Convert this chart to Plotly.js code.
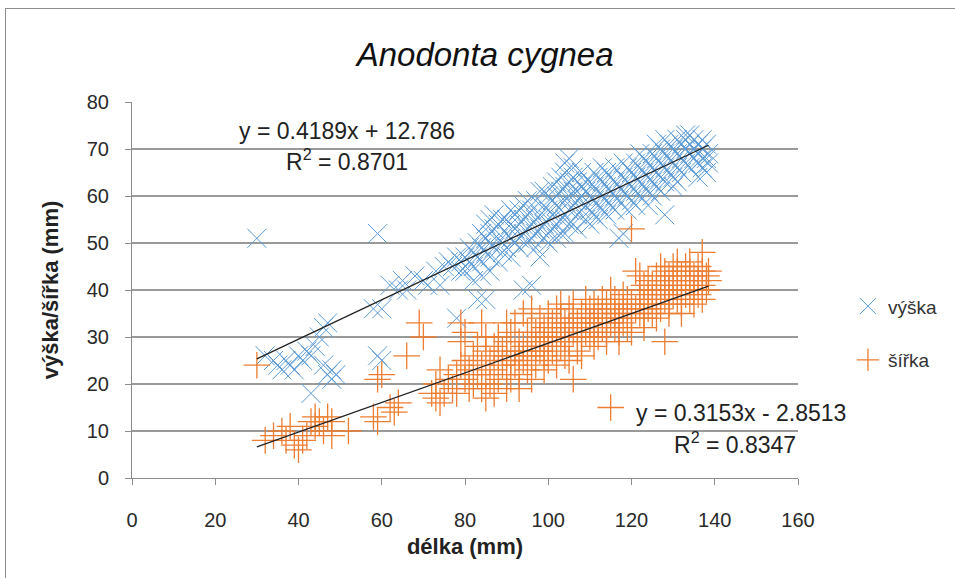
<!DOCTYPE html>
<html><head><meta charset="utf-8">
<script src="https://cdn.plot.ly/plotly-3.0.1.min.js"></script>
<style>
body{margin:0;background:#fff;}
#chart{position:absolute;left:0;top:0;width:955px;height:578px;}
#frame{position:absolute;left:5px;top:8px;width:960px;height:580px;border:1px solid #8c8c8c;pointer-events:none;}
</style></head>
<body><div id="chart"></div><div id="frame"></div>
<script>
// výška (height) vs délka (length)
const vyskaPoints = [
 [30,51],[59,52],[32,26],[34,25],[35,24],[36,23],[37,25],[38,24],[39,23],[40,26],[41,25],[42,27],[43,26],[43,18],
 [44,28],[45,30],[46,32],[47,33],[47,22],[48,21],[49,22],[48,23],[46,24],[59,26],[60,25],[58,36],[60,36],
 [62,41],[64,40],[65,42],[66,40],[68,43],[70,42],[71,41],[73,44],[74,41],[75,45],[76,46],[77,45],[78,47],[79,46],[79,44],[78,34],
 [80,47],[80,44],[81,46],[81,49],[82,48],[82,45],[82,42],[83,50],[83,47],[83,38],[84,52],[84,46],[84,49],[84,43],[85,54],[85,48],[85,51],[85,38],
 [86,55],[86,47],[86,50],[86,52],[86,44],[87,53],[87,49],[87,56],[88,51],[88,46],[88,54],[89,50],[89,48],[89,55],[90,52],[90,49],[90,55],
 [91,51],[91,57],[91,47],[91,54],[92,53],[92,50],[92,56],[93,54],[93,51],[93,49],[93,57],[94,55],[94,52],[94,58],[94,40],[95,53],[95,50],[95,56],[95,59],[96,41],
 [96,57],[96,54],[96,51],[97,55],[97,52],[97,59],[97,49],[98,56],[98,53],[98,47],[98,61],[99,58],[99,54],[99,51],[99,61],[100,57],[100,55],[100,60],[100,52],[100,50],
 [101,56],[101,62],[101,53],[101,59],[102,58],[102,60],[102,54],[102,51],[102,63],[103,64],[103,57],[103,61],[103,52],[103,55],[104,65],[104,59],[104,55],[104,62],[104,67],[104,52],
 [105,68],[105,60],[105,57],[105,63],[105,54],[106,66],[106,58],[106,61],[106,54],[106,64],[107,63],[107,59],[107,56],[107,61],[107,53],[108,62],[108,60],[108,57],[108,65],
 [109,61],[109,58],[109,55],[109,63],[110,60],[110,63],[110,57],[110,54],
 [111,59],[111,62],[111,56],[111,65],[112,61],[112,58],[112,64],[112,55],[113,60],[113,63],[113,57],[113,66],[114,62],[114,59],[114,65],[114,56],[115,61],[115,58],[115,64],
 [116,63],[116,60],[116,66],[116,57],[117,62],[117,59],[117,51],[118,64],[118,61],[118,67],[118,52],[119,63],[119,60],[119,66],[119,57],[120,62],[120,65],[120,59],
 [121,64],[121,61],[121,67],[121,58],[122,63],[122,66],[122,60],[122,69],[123,65],[123,62],[123,68],[124,64],[124,61],[124,67],[124,58],[125,66],[125,63],[125,69],[125,60],
 [126,65],[126,68],[126,62],[126,71],[127,67],[127,64],[127,70],[127,61],[128,66],[128,69],[128,56],[128,63],[128,72],[129,68],[129,65],[129,71],[130,67],[130,70],[130,64],[130,62],
 [131,69],[131,66],[131,72],[131,63],[132,68],[132,71],[132,65],[133,70],[133,67],[133,72],[133,73],[134,69],[134,66],[134,71],[134,73],[135,70],[135,68],[135,72],
 [136,71],[136,67],[136,69],[136,64],[137,70],[137,72],[137,66],[137,68],[138,71],[138,68],[138,65],[138.5,69],[138.5,67]
];
// šířka (width) vs délka (length)
const sirkaPoints = [
 [30,24],[32,8],[34,9],[36,10],[37,8],[38,11],[39,7],[40,6],[41,8],[42,9],[43,12],[44,11],[44,13],[45,12],[46,10],[47,13],[48,12],[48,9],
 [52,10],[58,13],[59,12],[59,21],[60,22],[62,15],[63,14],[64,16],[66,26],[69,33],[70,30],[72,18],[73,17],[73,20],[74,16],[75,18],[74,23],
 [79,33],[80,31],[79,29],
 [76,21],[77,19],[78,22],[78,18],[79,24],[80,21],[80,25],[81,19],[81,23],[82,26],[82,20],[83,22],[83,28],[84,24],[84,19],[84,33],[85,27],[85,22],[85,30],[85,17],
 [86,25],[86,20],[87,23],[87,28],[87,18],[88,26],[88,21],[88,30],[89,24],[89,27],[90,22],[90,26],[90,29],[90,19],[90,33],
 [91,25],[91,31],[91,21],[92,27],[92,24],[92,33],[93,26],[93,29],[93,22],[93,19],[94,28],[94,25],[94,35],[95,27],[95,23],[95,31],
 [96,29],[96,26],[96,33],[96,21],[96,36],[97,28],[97,24],[97,31],[98,30],[98,27],[98,34],[99,29],[99,26],[99,32],[99,23],[100,31],[100,28],[100,35],[100,25],
 [101,30],[101,27],[101,33],[102,32],[102,29],[102,36],[102,24],[103,31],[103,28],[103,34],[103,37],[104,33],[104,30],[104,26],[105,32],[105,29],[105,36],[105,25],
 [106,34],[106,31],[106,37],[106,21],[107,33],[107,30],[107,27],[108,35],[108,32],[108,29],[108,26],[109,34],[109,31],[109,38],[110,33],[110,36],[110,30],
 [111,34],[111,31],[111,37],[111,28],[112,33],[112,36],[112,30],[113,35],[113,32],[113,38],[114,34],[114,31],[114,37],[114,29],[115,36],[115,33],[115,15],[115,40],
 [116,35],[116,32],[116,38],[117,34],[117,37],[117,31],[117,29],[118,36],[118,33],[118,39],[119,35],[119,38],[119,32],[120,37],[120,34],[120,53],[120,31],[121,44],[121,36],
 [122,38],[122,35],[122,40],[122,43],[123,37],[123,34],[123,41],[123,32],[124,39],[124,36],[124,42],[125,38],[125,35],[125,41],[126,40],[126,37],[126,43],[126,34],
 [127,39],[127,36],[127,42],[127,45],[128,41],[128,38],[128,29],[128,44],[129,40],[129,37],[129,43],[129,35],[130,42],[130,39],[130,45],[131,41],[131,38],[131,44],[131,46],
 [132,43],[132,40],[132,37],[132,35],[133,42],[133,45],[133,39],[134,44],[134,41],[134,38],[134,46],[135,43],[135,40],[135,37],[136,42],[136,45],[136,39],
 [137,48],[137,41],[137,44],[137,38],[138,43],[138,40],[138.5,44],[138.5,42]
];
const vyskaFit = {slope: 0.4189, intercept: 12.786, r2: "0.8701"};
const sirkaFit = {slope: 0.3153, intercept: -2.8513, r2: "0.8347"};
const xTicks = [0,20,40,60,80,100,120,140,160];
const yTicks = [0,10,20,30,40,50,60,70,80];

const blue = '#5B9BD5', orange = '#ED7D31';
function fitLine(pts, fit){
  const xs = pts.map(p=>p[0]);
  const x0 = Math.min(...xs), x1 = Math.max(...xs);
  return {x:[x0,x1], y:[fit.slope*x0+fit.intercept, fit.slope*x1+fit.intercept]};
}
const l1 = fitLine(vyskaPoints, vyskaFit), l2 = fitLine(sirkaPoints, sirkaFit);
const traces = [
 {type:'scatter', mode:'markers', name:'výška', legendgroup:'a',
  x: vyskaPoints.map(p=>p[0]), y: vyskaPoints.map(p=>p[1]),
  marker:{symbol:'x-thin', size:19, line:{color:blue, width:1}, color:blue}},
 {type:'scatter', mode:'markers', name:'šířka', legendgroup:'b',
  x: sirkaPoints.map(p=>p[0]), y: sirkaPoints.map(p=>p[1]),
  marker:{symbol:'cross-thin', size:19, line:{color:orange, width:1.3}, color:orange}},
 {type:'scatter', mode:'lines', x:l1.x, y:l1.y, line:{color:'#222', width:1.3}, showlegend:false, hoverinfo:'skip'},
 {type:'scatter', mode:'lines', x:l2.x, y:l2.y, line:{color:'#222', width:1.3}, showlegend:false, hoverinfo:'skip'}
];
const f = 'Liberation Sans, Arial, sans-serif';
const sgn = v => v<0 ? ' - ' + Math.abs(v) : ' + ' + v;
const layout = {
 width:955, height:578, paper_bgcolor:'#fff', plot_bgcolor:'#fff',
 margin:{l:132, r:157, t:102, b:100},
 font:{family:f, color:'#333', size:19},
 title:{text:'<i>Anodonta cygnea</i>', x:0.508, xanchor:'center', y:0.905, yanchor:'middle', font:{size:33, color:'#111', family:f}},
 xaxis:{range:[0,160], tickvals:xTicks, ticktext:xTicks.map(String), showgrid:false, zeroline:false,
   showline:true, linecolor:'#8c8c8c', linewidth:1, ticks:'outside', ticklen:6, tickcolor:'#8c8c8c',
   ticklabelstandoff:18, tickfont:{size:20, color:'#2a2a2a'},
   title:{text:'<b>délka (mm)</b>', font:{size:22, color:'#222'}, standoff:8}},
 yaxis:{range:[0,80], tickvals:yTicks, ticktext:yTicks.map(String), showgrid:true, gridcolor:'#9a9a9a', gridwidth:1.3,
   zeroline:false, showline:true, linecolor:'#8c8c8c', linewidth:1, ticks:'outside', ticklen:6, tickcolor:'#8c8c8c',
   ticklabelstandoff:12, tickfont:{size:20, color:'#2a2a2a'},
   title:{text:'<b>výška/šířka (mm)</b>', font:{size:22, color:'#222'}, standoff:22}},
 legend:{x:1.075, y:0.385, xanchor:'left', yanchor:'middle', font:{size:19, color:'#333'}, tracegroupgap:26, bgcolor:'rgba(0,0,0,0)'},
 annotations:[
  {x:51.7, y:73.8, xref:'x', yref:'y', text:'y = '+vyskaFit.slope+'x'+sgn(vyskaFit.intercept), showarrow:false, font:{size:23, color:'#222'}},
  {x:51.7, y:67.6, xref:'x', yref:'y', text:'R<sup>2</sup> = '+vyskaFit.r2, showarrow:false, font:{size:23, color:'#222'}},
  {x:172/160, y:13.8/80, xref:'paper', yref:'paper', xanchor:'right', yanchor:'middle', text:'y = '+sirkaFit.slope+'x'+sgn(sirkaFit.intercept), showarrow:false, font:{size:23, color:'#222'}},
  {x:1.0, y:7.4/80, xref:'paper', yref:'paper', xanchor:'right', yanchor:'middle', text:'R<sup>2</sup> = '+sirkaFit.r2, showarrow:false, font:{size:23, color:'#222'}}
 ]
};
Plotly.newPlot('chart', traces, layout, {displayModeBar:false, staticPlot:true});
</script></body></html>
